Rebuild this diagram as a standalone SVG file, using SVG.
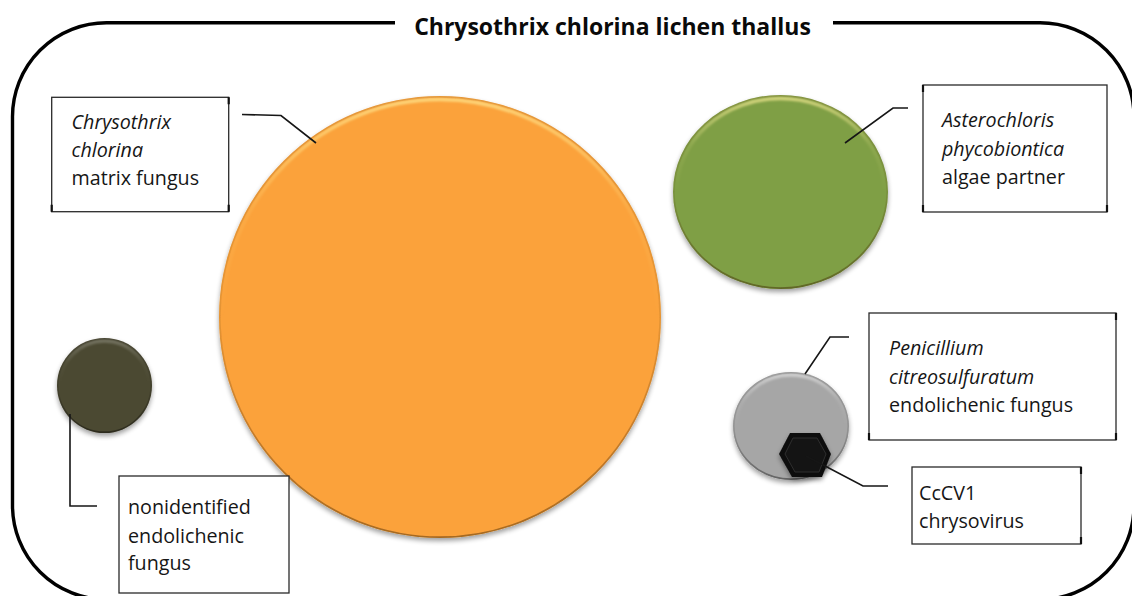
<svg xmlns="http://www.w3.org/2000/svg" width="1132" height="596" viewBox="0 0 1132 596">
<defs>
<style>
.lbl{font-family:"Open Sans","Liberation Sans",sans-serif;font-size:19.7px;fill:#161616}
.it{font-style:italic}
.title{font-family:"Open Sans","Liberation Sans",sans-serif;font-size:23px;font-weight:bold;fill:#0a0a0a}
.box{fill:#fff;stroke:#2a2a2a;stroke-width:1.3}
.tick{stroke:#111;stroke-width:2.2}
.conn{fill:none;stroke:#161616;stroke-width:1.6}
.frame{fill:none;stroke:#000;stroke-width:3.4}
.hi{fill:none;stroke:url(#hl);stroke-width:3.5}
.edge{fill:none;stroke:url(#dk);stroke-width:2.4}
.edgeN{fill:none;stroke:url(#dkN);stroke-width:2.4}
</style>
<filter id="shadow" x="-20%" y="-20%" width="140%" height="145%">
<feGaussianBlur in="SourceAlpha" stdDeviation="2.4"/>
<feOffset dx="0" dy="3" result="b"/>
<feComponentTransfer><feFuncA type="linear" slope="0.38"/></feComponentTransfer>
<feMerge><feMergeNode/><feMergeNode in="SourceGraphic"/></feMerge>
</filter>
<filter id="soft" x="-10%" y="-10%" width="120%" height="120%">
<feGaussianBlur stdDeviation="1"/>
</filter>
<filter id="soft2" x="-10%" y="-10%" width="120%" height="120%">
<feGaussianBlur stdDeviation="0.6"/>
</filter>
<linearGradient id="hl" x1="0" y1="0" x2="0" y2="1">
<stop offset="0" stop-color="#FFF09A" stop-opacity="0.65"/>
<stop offset="0.25" stop-color="#FFF09A" stop-opacity="0.12"/>
<stop offset="0.5" stop-color="#FFF09A" stop-opacity="0"/>
<stop offset="1" stop-color="#FFF09A" stop-opacity="0"/>
</linearGradient>
<linearGradient id="hlN" x1="0" y1="0" x2="0" y2="1">
<stop offset="0" stop-color="#fff" stop-opacity="0.45"/>
<stop offset="0.25" stop-color="#fff" stop-opacity="0.08"/>
<stop offset="0.5" stop-color="#fff" stop-opacity="0"/>
<stop offset="1" stop-color="#fff" stop-opacity="0"/>
</linearGradient>
<linearGradient id="dk" x1="0" y1="0" x2="0" y2="1">
<stop offset="0" stop-color="#6a3a00" stop-opacity="0.15"/>
<stop offset="0.5" stop-color="#4a2a00" stop-opacity="0.12"/>
<stop offset="1" stop-color="#3a2000" stop-opacity="0.45"/>
</linearGradient>
<linearGradient id="dkN" x1="0" y1="0" x2="0" y2="1">
<stop offset="0" stop-color="#000" stop-opacity="0.12"/>
<stop offset="0.5" stop-color="#000" stop-opacity="0.1"/>
<stop offset="1" stop-color="#000" stop-opacity="0.4"/>
</linearGradient>
<clipPath id="cOrange"><circle cx="440" cy="317" r="221"/></clipPath>
<clipPath id="cGreen"><ellipse cx="780.5" cy="192" rx="107.5" ry="97"/></clipPath>
<clipPath id="cDark"><circle cx="104.5" cy="385.5" r="47.5"/></clipPath>
<clipPath id="cGray"><ellipse cx="791" cy="426" rx="58" ry="54"/></clipPath>
</defs>

<rect x="0" y="0" width="1132" height="596" fill="#fff"/>

<g id="frame">
<path class="frame" d="M395,22.7 H106.5 A94,94 0 0 0 12.5,116.7 V505.5 A94,94 0 0 0 106.5,599.5 H1040 A94,94 0 0 0 1134,505.5 V116.7 A94,94 0 0 0 1040,22.7 H833"/>
<text class="title" x="612.5" y="34.5" text-anchor="middle">Chrysothrix chlorina lichen thallus</text>
</g>

<g id="node-chrysothrix">
<g filter="url(#shadow)"><circle cx="440" cy="317" r="221" fill="#FBA23A"/></g>
<g clip-path="url(#cOrange)">
<circle class="hi" cx="440" cy="317" r="217.5" filter="url(#soft)"/>
<circle class="edge" cx="440" cy="317" r="220.5" filter="url(#soft2)"/>
</g>
</g>

<g id="node-asterochloris">
<g filter="url(#shadow)"><ellipse cx="780.5" cy="192" rx="107.5" ry="97" fill="#7F9F45"/></g>
<g clip-path="url(#cGreen)">
<ellipse class="hi" cx="780.5" cy="192" rx="104" ry="93.5" filter="url(#soft)"/>
<ellipse class="edge" cx="780.5" cy="192" rx="107" ry="96.5" filter="url(#soft2)"/>
</g>
</g>

<g id="node-nonidentified">
<g filter="url(#shadow)"><circle cx="104.5" cy="385.5" r="47.5" fill="#4B4832"/></g>
<g clip-path="url(#cDark)">
<circle cx="104.5" cy="385.5" r="44.5" fill="none" stroke="url(#hlN)" stroke-width="3.5" filter="url(#soft)" opacity="0.5"/>
<circle class="edgeN" cx="104.5" cy="385.5" r="47" filter="url(#soft2)"/>
</g>
</g>

<g id="node-penicillium">
<g filter="url(#shadow)"><ellipse cx="791" cy="426" rx="58" ry="54" fill="#A6A6A6"/></g>
<g clip-path="url(#cGray)">
<ellipse cx="791" cy="426" rx="55" ry="51" fill="none" stroke="url(#hlN)" stroke-width="3.5" filter="url(#soft)"/>
<ellipse class="edgeN" cx="791" cy="426" rx="57.5" ry="53.5" filter="url(#soft2)"/>
</g>
</g>

<g id="node-cccv1">
<g filter="url(#shadow)"><polygon points="790,433 820,433 831,454 822,477 792,477 779,454" fill="#0c0c0c"/></g>
<polygon points="793,438 817,438 826,454 819,472 795,472 785,454" fill="#141414" stroke="#2e2e2e" stroke-width="1"/>
</g>

<g id="connectors">
<polyline class="conn" points="242,114.5 281,115.5 316,143"/>
<polyline class="conn" points="845,143 893,108 908,108"/>
<polyline class="conn" points="70,414 70,506 97,506"/>
<polyline class="conn" points="805,374 830,337 849,337"/>
<polyline class="conn" points="806,456 863,486 888,486"/>
</g>

<g id="label-chrysothrix">
<rect class="box" x="51.7" y="97.3" width="177" height="114.4"/>
<path class="tick" d="M228.7,97.3 v7 M51.7,211.7 v-7 M228.7,211.7 v-7"/>
<text class="lbl"><tspan class="it" x="71.5" y="129.3">Chrysothrix</tspan><tspan class="it" x="71.5" y="157">chlorina</tspan><tspan x="71.5" y="185">matrix fungus</tspan></text>
</g>

<g id="label-asterochloris">
<rect class="box" x="923" y="85" width="184" height="127"/>
<path class="tick" d="M923,85 v7 M923,212 v-7 M1107,212 v-7"/>
<text class="lbl"><tspan class="it" x="942" y="127">Asterochloris</tspan><tspan class="it" x="942" y="155.5">phycobiontica</tspan><tspan x="942" y="184">algae partner</tspan></text>
</g>

<g id="label-nonidentified">
<rect class="box" x="119" y="476" width="170" height="117"/>
<text class="lbl"><tspan x="128" y="514">nonidentified</tspan><tspan x="128" y="543">endolichenic</tspan><tspan x="128" y="570">fungus</tspan></text>
</g>

<g id="label-penicillium">
<rect class="box" x="869" y="313" width="247" height="127"/>
<path class="tick" d="M869,440 v-7 M1116,313 v7 M1116,440 v-7"/>
<text class="lbl"><tspan class="it" x="889" y="355">Penicillium</tspan><tspan class="it" x="889" y="383.5">citreosulfuratum</tspan><tspan x="889" y="412">endolichenic fungus</tspan></text>
</g>

<g id="label-cccv1">
<rect class="box" x="912" y="467" width="169" height="77"/>
<path class="tick" d="M1081,467 v7 M1081,544 v-7"/>
<text class="lbl"><tspan x="919" y="500">CcCV1</tspan><tspan x="919" y="527.7">chrysovirus</tspan></text>
</g>
</svg>
